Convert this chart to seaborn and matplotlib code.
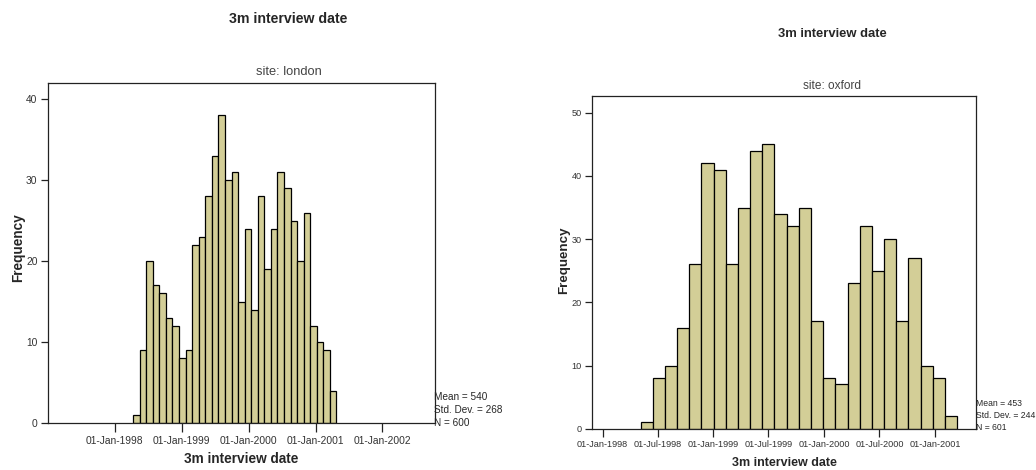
import numpy as np
import pandas as pd
import seaborn as sns
import matplotlib
matplotlib.use("Agg")
import matplotlib.pyplot as plt
import matplotlib.dates as mdates

# counts per bin
london_counts = [1, 9, 20, 17, 16, 13, 12, 8, 9, 22, 23, 28, 33, 38, 30, 31,
                 15, 24, 14, 28, 19, 24, 31, 29, 25, 20, 26, 12, 10, 9, 4]
london_first_bin = "1998-04-11"
london_bin_days = 35.8
london_stats = ["Mean = 540", "Std. Dev. = 268", "N = 600"]

oxford_counts = [1, 8, 10, 16, 26, 42, 41, 26, 35, 44, 45, 34, 32, 35, 17,
                 8, 7, 23, 32, 25, 30, 17, 27, 10, 8, 2]
oxford_first_bin = "1998-05-06"
oxford_bin_days = 40.1
oxford_stats = ["Mean = 453", "Std. Dev. = 244", "N = 601"]

london_ticks = ["1998-01-01", "1999-01-01", "2000-01-01", "2001-01-01", "2002-01-01"]
oxford_ticks = ["1998-01-01", "1998-07-01", "1999-01-01", "1999-07-01",
                "2000-01-01", "2000-07-01", "2001-01-01"]

bar_color = "#d3ce97"

sns.set_style("ticks")
plt.rcParams["font.family"] = ["Liberation Sans", "DejaVu Sans"]


def bin_edges(first, days, n):
    start = mdates.date2num(pd.Timestamp(first))
    return start + days * np.arange(n + 1)


def draw(ax, counts, first, days, ticks, xlim, ylim, tick_size, xtick_len):
    edges = bin_edges(first, days, len(counts))
    df = pd.DataFrame({"date": (edges[:-1] + edges[1:]) / 2, "n": counts})
    sns.histplot(data=df, x="date", weights="n", bins=list(edges), ax=ax,
                 color=bar_color, edgecolor="black", linewidth=0.9, alpha=1)
    ax.set_xlim(mdates.date2num(pd.Timestamp(xlim[0])),
                mdates.date2num(pd.Timestamp(xlim[1])))
    ax.set_ylim(*ylim)
    ax.set_xticks(mdates.date2num(pd.to_datetime(ticks)))
    ax.xaxis.set_major_formatter(mdates.DateFormatter("%d-%b-%Y"))
    ax.set_yticks(range(0, int(ylim[1]) + 1, 10))
    ax.tick_params(direction="out", width=0.9, labelsize=tick_size,
                   colors="#222222", labelcolor="#333333", pad=2.5)
    ax.tick_params(axis="x", length=xtick_len)
    ax.tick_params(axis="y", length=5)
    for s in ax.spines.values():
        s.set_visible(True)
        s.set_linewidth(0.9)
        s.set_color("#222222")
    ax.set_xlabel("")
    ax.set_ylabel("")


fig = plt.figure(figsize=(10.36, 4.70), dpi=100)
ax1 = fig.add_axes([0.0463, 0.1, 0.3736, 0.7234])
ax2 = fig.add_axes([0.5717, 0.0879, 0.3701, 0.7085])

draw(ax1, london_counts, london_first_bin, london_bin_days, london_ticks,
     ("1997-01-01", "2002-10-15"), (0, 42), 7.4, 6.5)
draw(ax2, oxford_counts, oxford_first_bin, oxford_bin_days, oxford_ticks,
     ("1997-11-28", "2001-05-14"), (0, 52.7), 6.6, 6)

W, H = 1036, 470


def ftext(x, y, s, **kw):
    fig.text(x / W, 1 - y / H, s, **kw)


# titles
ftext(288, 19, "3m interview date", ha="center", va="center", fontsize=10.2, fontweight="bold")
ftext(289, 72, "site: london", ha="center", va="center", fontsize=9.3, color="#444444")
ftext(832, 34, "3m interview date", ha="center", va="center", fontsize=9.4, fontweight="bold")
ftext(832, 86, "site: oxford", ha="center", va="center", fontsize=8.6, color="#444444")

# axis labels
ftext(18, 248, "Frequency", ha="center", va="center", rotation=90, fontsize=9.8, fontweight="bold")
ftext(241, 459, "3m interview date", ha="center", va="center", fontsize=9.8, fontweight="bold")
ftext(564, 260, "Frequency", ha="center", va="center", rotation=90, fontsize=9.6, fontweight="bold")
ftext(784, 463, "3m interview date", ha="center", va="center", fontsize=9, fontweight="bold")

# stats boxes
for i, s in enumerate(london_stats):
    ftext(434, 397 + i * 13, s, ha="left", va="center", fontsize=7.2)
for i, s in enumerate(oxford_stats):
    ftext(976, 404 + i * 12, s, ha="left", va="center", fontsize=6.2)

fig.savefig("out.png", dpi=100)
